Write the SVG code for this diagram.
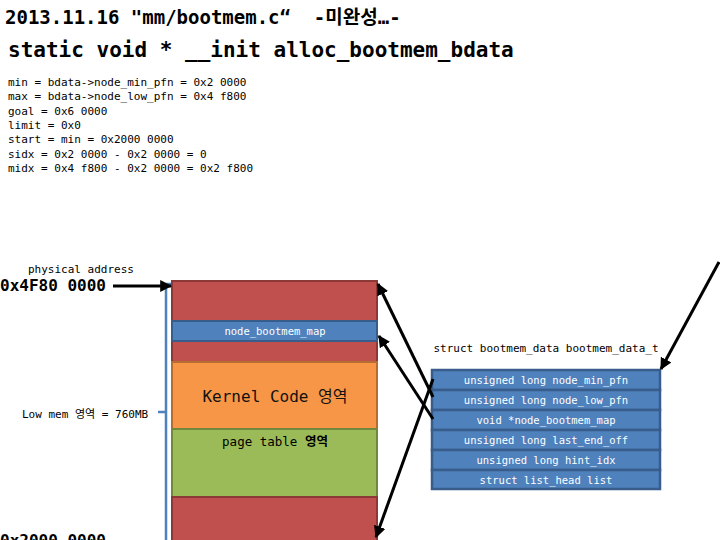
<svg xmlns="http://www.w3.org/2000/svg" width="720" height="540" viewBox="0 0 720 540">
<defs>
<marker id="ah" viewBox="0 0 10 10" refX="9" refY="5" markerWidth="4" markerHeight="4" orient="auto" markerUnits="strokeWidth">
<path d="M0,0 L10,5 L0,10 z" fill="#000"/>
</marker>
</defs>
<style>
.mono{font-family:"DejaVu Sans Mono","Liberation Mono","Noto Sans CJK KR",monospace;}
.b{font-weight:bold;}
.code{font-size:11px;fill:#000;}
.red{fill:#C0504D;stroke:#8C3836;stroke-width:2;}
.blue{fill:#4F81BD;stroke:#385D8A;stroke-width:2;}
.orange{fill:#F79646;stroke:#B66D31;stroke-width:2;}
.green{fill:#9BBB59;stroke:#71893F;stroke-width:2;}
.row{fill:#4F81BD;stroke:#385D8A;stroke-width:2.5;}
.wt{fill:#fff;font-size:10.5px;text-anchor:middle;}
.conn{stroke:#000;stroke-width:3;fill:none;marker-end:url(#ah);}
</style>
<rect width="720" height="540" fill="#fff"/>
<g id="title">
<text class="mono b" x="5" y="24" font-size="19">2013.11.16 "mm/bootmem.c“&#160;&#160;-미완성…-</text>
<text class="mono b" x="8" y="57" font-size="21">static void * __init alloc_bootmem_bdata</text>
</g>
<g id="code" class="mono code">
<text x="8" y="86">min = bdata-&gt;node_min_pfn = 0x2 0000</text>
<text x="8" y="100">max = bdata-&gt;node_low_pfn = 0x4 f800</text>
<text x="8" y="115">goal = 0x6 0000</text>
<text x="8" y="129">limit = 0x0</text>
<text x="8" y="143">start = min = 0x2000 0000</text>
<text x="8" y="158">sidx = 0x2 0000 - 0x2 0000 = 0</text>
<text x="8" y="172">midx = 0x4 f800 - 0x2 0000 = 0x2 f800</text>
</g>
<g id="addr-labels">
<text class="mono" x="28" y="273" font-size="11">physical address</text>
<text class="mono b" x="0" y="291" font-size="16">0x4F80 0000</text>
<text class="mono b" x="0" y="546" font-size="16">0x2000 0000</text>
<text class="mono" x="22" y="418" font-size="11">Low mem 영역 = 760MB</text>
</g>
<g id="lowmem-bracket" fill="none" stroke="#4F81BD" stroke-width="2.5">
<path d="M172,284 H166 V545"/>
<path d="M158,412 H166"/>
</g>
<g id="mem-top"><rect class="red" x="172" y="281" width="205" height="81"/></g>
<g id="node_bootmem_map">
<rect class="blue" x="172" y="321" width="205" height="20"/>
<text class="mono wt" x="275" y="335">node_bootmem_map</text>
</g>
<g id="kernel-code">
<rect class="orange" x="172" y="362" width="205" height="67"/>
<text class="mono" x="275" y="402" font-size="16" text-anchor="middle" fill="#111">Kernel Code 영역</text>
</g>
<g id="page-table">
<rect class="green" x="172" y="429" width="205" height="68"/>
<text class="mono" x="275" y="446" font-size="12.5" text-anchor="middle">page table <tspan class="b">영역</tspan></text>
</g>
<g id="mem-bottom"><rect class="red" x="172" y="497" width="205" height="50"/></g>
<g id="bootmem_data_t">
<text class="mono" x="546" y="352" font-size="11" text-anchor="middle">struct bootmem_data bootmem_data_t</text>
<rect class="row" x="432" y="370" width="228" height="20"/>
<rect class="row" x="432" y="390" width="228" height="20"/>
<rect class="row" x="432" y="410" width="228" height="20"/>
<rect class="row" x="432" y="430" width="228" height="20"/>
<rect class="row" x="432" y="450" width="228" height="20"/>
<rect class="row" x="432" y="470" width="228" height="19"/>
<text class="mono wt" x="546" y="384">unsigned long node_min_pfn</text>
<text class="mono wt" x="546" y="404">unsigned long node_low_pfn</text>
<text class="mono wt" x="546" y="424">void *node_bootmem_map</text>
<text class="mono wt" x="546" y="444">unsigned long last_end_off</text>
<text class="mono wt" x="546" y="464">unsigned long hint_idx</text>
<text class="mono wt" x="546" y="484">struct list_head list</text>
</g>
<g id="connectors">
<line class="conn" x1="113" y1="286" x2="171" y2="286"/>
<line class="conn" x1="113" y1="546" x2="171" y2="546"/>
<line class="conn" x1="433" y1="397" x2="378" y2="284"/>
<line class="conn" x1="433" y1="419" x2="379" y2="336"/>
<line class="conn" x1="433" y1="379" x2="376" y2="537"/>
<line class="conn" x1="719" y1="262" x2="661" y2="369"/>
</g>
</svg>
